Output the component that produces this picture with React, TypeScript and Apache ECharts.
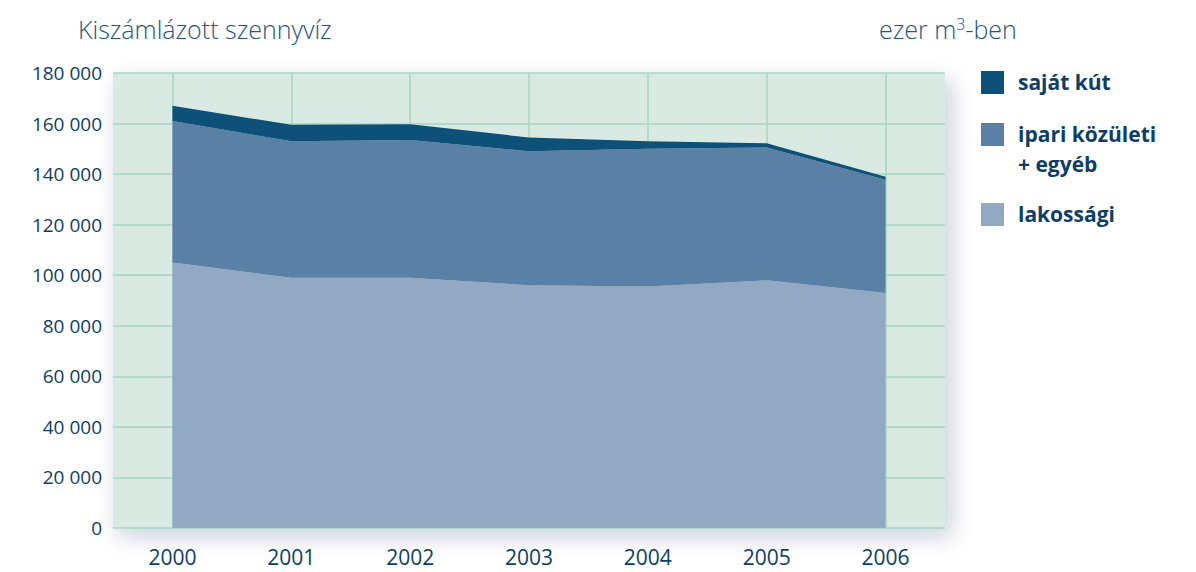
import React, { useEffect, useRef } from "react";
import * as echarts from "echarts";

const years = ["2000", "2001", "2002", "2003", "2004", "2005", "2006"];
const lakossagi = [105000, 99000, 99000, 96000, 95500, 98000, 93000];
const ipari = [56000, 54000, 54500, 53000, 54500, 52500, 44800];
const sajatKut = [6000, 6500, 6200, 5500, 3000, 1700, 1200];
const seriesNames = ["lakossági", "ipari közületi + egyéb", "saját kút"];
const yTicks = { min: 0, max: 180000, interval: 20000 };

const COLORS = {
  lak: "#91a9c3",
  ipari: "#5b80a6",
  kut: "#0d5178",
  bg: "#d9eae2",
  grid: "#a6d6c1",
  text: "#0e3e66",
  title: "#24557c",
};
const FONT = "'Open Sans', 'Noto Sans', sans-serif";

function fmt(v: number) {
  return String(v).replace(/\B(?=(\d{3})+(?!\d))/g, " ");
}

export default function App() {
  const ref = useRef<HTMLDivElement>(null);
  useEffect(() => {
    if (!ref.current) return;
    const chart = echarts.init(ref.current, undefined, { renderer: "svg" });
    const legendItems = [
      { top: 71, color: COLORS.kut, lines: ["saját kút"] },
      { top: 123, color: COLORS.ipari, lines: ["ipari közületi", "+ egyéb"] },
      { top: 203, color: COLORS.lak, lines: ["lakossági"] },
    ];
    const graphic: any[] = [];
    legendItems.forEach((it) => {
      graphic.push({
        type: "rect",
        left: 981,
        top: it.top,
        shape: { width: 23, height: 23 },
        style: { fill: it.color },
      });
      it.lines.forEach((ln, i) => {
        graphic.push({
          type: "text",
          x: 1018,
          y: it.top + 11 + i * 30,
          style: {
            text: ln,
            fill: COLORS.text,
            font: `bold 21px ${FONT}`,
            textVerticalAlign: "middle",
          },
        });
      });
    });
    chart.setOption({
      animation: false,
      title: [
        {
          text: "Kiszámlázott szennyvíz",
          left: 73,
          top: 11,
          textStyle: { color: COLORS.title, fontFamily: FONT, fontWeight: 300, fontSize: 25 },
        },
        {
          text: "ezer m{sup|3}-ben",
          left: 874,
          top: 11,
          textStyle: {
            color: COLORS.title,
            fontFamily: FONT,
            fontWeight: 300,
            fontSize: 25,
            rich: {
              sup: { fontSize: 16, fontFamily: FONT, fontWeight: 300, color: COLORS.title, verticalAlign: "top", padding: [0, 0, 10, 0] },
            },
          },
        },
      ],
      grid: {
        left: 113,
        right: 251,
        top: 73,
        bottom: 44,
        show: true,
        backgroundColor: COLORS.bg,
        borderWidth: 0,
        shadowBlur: 22,
        shadowColor: "rgba(20,40,90,0.22)",
        shadowOffsetX: 6,
        shadowOffsetY: 8,
      },
      graphic,
      xAxis: {
        type: "category",
        data: years,
        boundaryGap: true,
        z: 3,
        axisLine: { show: false },
        axisTick: { show: false },
        axisLabel: { color: COLORS.text, fontFamily: FONT, fontSize: 21, margin: 18 },
        splitLine: { show: true, alignWithLabel: true, lineStyle: { color: COLORS.grid, width: 1.5 } },
      },
      yAxis: {
        type: "value",
        min: yTicks.min,
        max: yTicks.max,
        interval: yTicks.interval,
        z: 3,
        axisLine: { show: false },
        axisTick: { show: false },
        axisLabel: { color: COLORS.text, fontFamily: FONT, fontSize: 19, margin: 11, formatter: (v: number) => fmt(v) },
        splitLine: { show: true, lineStyle: { color: COLORS.grid, width: 1.5 } },
      },
      series: [
        { name: seriesNames[0], data: lakossagi, color: COLORS.lak },
        { name: seriesNames[1], data: ipari, color: COLORS.ipari },
        { name: seriesNames[2], data: sajatKut, color: COLORS.kut },
      ].map((s) => ({
        ...s,
        type: "line",
        stack: "total",
        symbol: "none",
        lineStyle: { width: 0 },
        areaStyle: { color: s.color, opacity: 1 },
        itemStyle: { color: s.color },
      })),
    });
    return () => chart.dispose();
  }, []);
  return (
    <div
      ref={ref}
      style={{ position: "fixed", left: 0, top: 0, width: 1196, height: 572, background: "#fff" }}
    />
  );
}
